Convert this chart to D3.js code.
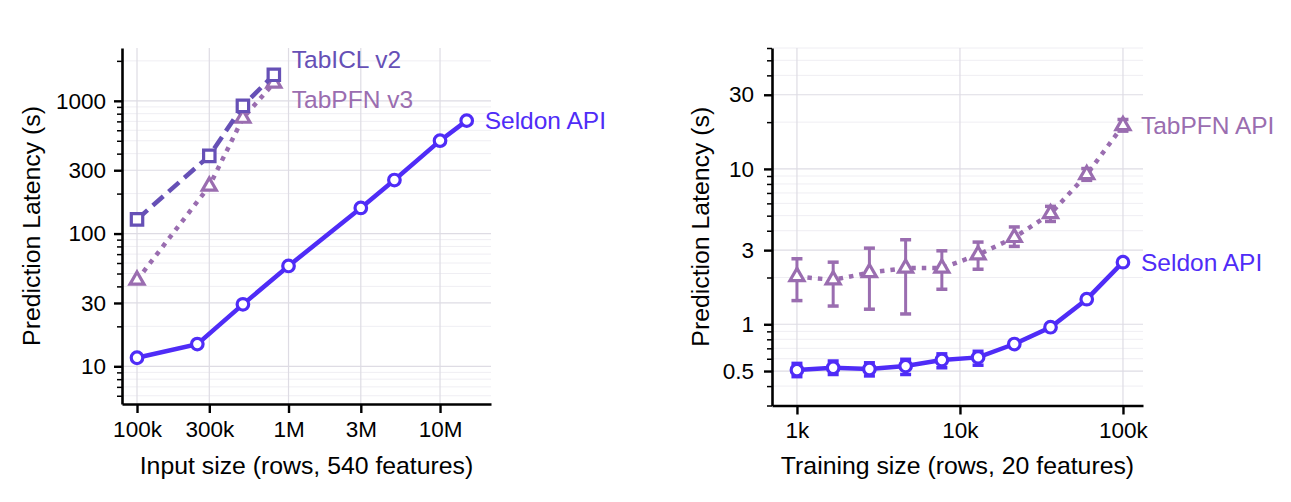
<!DOCTYPE html>
<html>
<head>
<meta charset="utf-8">
<script src="https://cdn.jsdelivr.net/npm/d3@7"></script>
<style>
  body { margin: 0; background: #fff; }
  text { font-family: "Liberation Sans", Arial, sans-serif; }
</style>
</head>
<body>
<script>
// left panel: input size
const inputSizes = [100e3, 250e3, 500e3, 1e6, 3e6, 5e6, 10e6, 15e6];
const seldonInputLatency = [11.6, 14.7, 29.3, 57, 156, 253, 501, 709];
const localSizes = [100e3, 300e3, 500e3, 800e3];
const tabiclLatency = [128, 385, 917, 1570];
const tabpfnV3Latency = [44.6, 228, 740, 1360];
const inputTicks = [1e5, 3e5, 1e6, 3e6, 1e7];
const inputTickLabels = ["100k", "300k", "1M", "3M", "10M"];
const inputLatencyTicks = [10, 30, 100, 300, 1000];

// right panel: training size
const trainSizes = [1000, 1668, 2783, 4642, 7743, 12915, 21544, 35938, 59948, 100000];
const seldonTrainLatency = [0.507, 0.525, 0.515, 0.538, 0.589, 0.612, 0.746, 0.957, 1.45, 2.51];
const seldonTrainLow = [0.46, 0.475, 0.465, 0.475, 0.525, 0.545, 0.73, 0.94, 1.42, 2.46];
const seldonTrainHigh = [0.56, 0.58, 0.565, 0.595, 0.645, 0.67, 0.765, 0.975, 1.48, 2.56];
const tabpfnApiLatency = [2.03, 1.93, 2.15, 2.30, 2.30, 2.80, 3.62, 5.15, 9.19, 19.0];
const tabpfnApiLow = [1.42, 1.31, 1.25, 1.165, 1.68, 2.26, 3.17, 4.59, 8.44, 17.5];
const tabpfnApiHigh = [2.64, 2.51, 3.09, 3.50, 2.97, 3.38, 4.23, 5.74, 10.05, 20.8];
const trainTicks = [1e3, 1e4, 1e5];
const trainTickLabels = ["1k", "10k", "100k"];
const trainLatencyTicks = [0.5, 1, 3, 10, 30];

const SELDON = "#4f2cf7", TABICL = "#6650b6", TABPFN = "#9a6db0";

const svg = d3.select("body").append("svg")
    .attr("width", 1291)
    .attr("height", 502);

function panel(p) {
  const x = d3.scaleLog().domain(p.xDomain).range([p.left, p.right]);
  const y = d3.scaleLog().domain(p.yDomain).range([p.bottom, p.top]);
  const g = svg.append("g");

  // grid
  const minorY = y.ticks().filter(v => !p.yTicks.some(t => Math.abs(t - v) < 1e-9));
  g.append("g").selectAll("line").data(minorY).enter().append("line")
    .attr("x1", p.left).attr("x2", p.right)
    .attr("y1", d => y(d)).attr("y2", d => y(d))
    .attr("stroke", "#efeef3").attr("stroke-width", 1);
  g.append("g").selectAll("line").data(p.yTicks).enter().append("line")
    .attr("x1", p.left).attr("x2", p.right)
    .attr("y1", d => y(d)).attr("y2", d => y(d))
    .attr("stroke", "#dedce4").attr("stroke-width", 1.2);
  g.append("g").selectAll("line").data(p.xTicks).enter().append("line")
    .attr("y1", p.top).attr("y2", p.bottom)
    .attr("x1", d => x(d)).attr("x2", d => x(d))
    .attr("stroke", "#dedce4").attr("stroke-width", 1.2);

  // series
  p.series.forEach(s => {
    const pts = s.xs.map((v, i) => [v, s.ys[i]]);
    g.append("path")
      .datum(pts)
      .attr("fill", "none")
      .attr("stroke", s.color)
      .attr("stroke-width", 4.5)
      .attr("stroke-dasharray", s.dash || null)
      .attr("d", d3.line().x(d => x(d[0])).y(d => y(d[1])));

    if (s.lo) {
      const eb = g.append("g").attr("stroke", s.color).attr("stroke-width", 3);
      s.xs.forEach((v, i) => {
        eb.append("line").attr("x1", x(v)).attr("x2", x(v))
          .attr("y1", y(s.lo[i])).attr("y2", y(s.hi[i]));
        [s.lo[i], s.hi[i]].forEach(e => {
          eb.append("line").attr("x1", x(v) - 5.5).attr("x2", x(v) + 5.5)
            .attr("y1", y(e)).attr("y2", y(e)).attr("stroke-width", 3.5);
        });
      });
    }

    g.append("g").selectAll("path").data(pts).enter().append("path")
      .attr("transform", d => `translate(${x(d[0])},${y(d[1])})`)
      .attr("d", d3.symbol().type(s.symbol).size(s.size))
      .attr("fill", "#fff")
      .attr("stroke", s.color)
      .attr("stroke-width", 3.2);

    const last = pts[pts.length - 1];
    g.append("text")
      .attr("x", x(last[0]) + 18)
      .attr("y", y(last[1]) + (s.labelDy || 0))
      .attr("dy", "0.35em")
      .attr("fill", s.color)
      .attr("font-size", 24.5)
      .text(s.name);
  });

  // axes
  const xAxis = g.append("g")
    .attr("transform", `translate(0,${p.bottom})`)
    .call(d3.axisBottom(x).tickValues(p.xTicks)
      .tickFormat((d, i) => p.xTickLabels[i]).tickSize(9).tickPadding(8).tickSizeOuter(0));
  const yMinor = g.append("g")
    .attr("transform", `translate(${p.left},0)`)
    .call(d3.axisLeft(y).tickValues(minorY).tickFormat("").tickSize(5).tickSizeOuter(0));
  yMinor.select(".domain").remove();
  yMinor.selectAll("line").attr("stroke-width", 1.5);
  const yAxis = g.append("g")
    .attr("transform", `translate(${p.left},0)`)
    .call(d3.axisLeft(y).tickValues(p.yTicks)
      .tickFormat(d3.format("")).tickSize(8).tickPadding(p.yPad).tickSizeOuter(0));
  [xAxis, yAxis].forEach(a => {
    a.select(".domain").attr("stroke", "#000").attr("stroke-width", 2.6);
    a.selectAll(".tick line").attr("stroke", "#000").attr("stroke-width", 2.4);
    a.selectAll("text").attr("font-size", 22.5).attr("fill", "#000")
      .attr("font-family", "'Liberation Sans', Arial, sans-serif");
  });

  g.append("text")
    .attr("x", (p.left + p.right) / 2)
    .attr("y", 474)
    .attr("text-anchor", "middle")
    .attr("font-size", 24.8)
    .text(p.xLabel);
  g.append("text")
    .attr("transform", `translate(${p.yLabelX},${(p.top + p.bottom) / 2}) rotate(-90)`)
    .attr("text-anchor", "middle")
    .attr("dy", "0.35em")
    .attr("font-size", 24.8)
    .text("Prediction Latency (s)");
}

panel({
  left: 122, right: 491, top: 48, bottom: 404,
  xDomain: [79600, 21.7e6], yDomain: [5.2, 2500],
  xTicks: inputTicks, xTickLabels: inputTickLabels,
  yTicks: inputLatencyTicks, yPad: 8, yLabelX: 31,
  xLabel: "Input size (rows, 540 features)",
  series: [
    { name: "TabPFN v3", xs: localSizes, ys: tabpfnV3Latency, color: TABPFN,
      dash: "4.5,6", symbol: d3.symbolTriangle, size: 85, labelDy: 16 },
    { name: "TabICL v2", xs: localSizes, ys: tabiclLatency, color: TABICL,
      dash: "14,7", symbol: d3.symbolSquare, size: 130, labelDy: -15 },
    { name: "Seldon API", xs: inputSizes, ys: seldonInputLatency, color: SELDON,
      symbol: d3.symbolCircle, size: 105 }
  ]
});

panel({
  left: 772, right: 1143, top: 48, bottom: 405.5,
  xDomain: [703, 132700], yDomain: [0.3, 60],
  xTicks: trainTicks, xTickLabels: trainTickLabels,
  yTicks: trainLatencyTicks, yPad: 10, yLabelX: 700,
  xLabel: "Training size (rows, 20 features)",
  series: [
    { name: "TabPFN API", xs: trainSizes, ys: tabpfnApiLatency, lo: tabpfnApiLow, hi: tabpfnApiHigh,
      color: TABPFN, dash: "4.5,6", symbol: d3.symbolTriangle, size: 85 },
    { name: "Seldon API", xs: trainSizes, ys: seldonTrainLatency, lo: seldonTrainLow, hi: seldonTrainHigh,
      color: SELDON, symbol: d3.symbolCircle, size: 105 }
  ]
});
</script>
</body>
</html>
